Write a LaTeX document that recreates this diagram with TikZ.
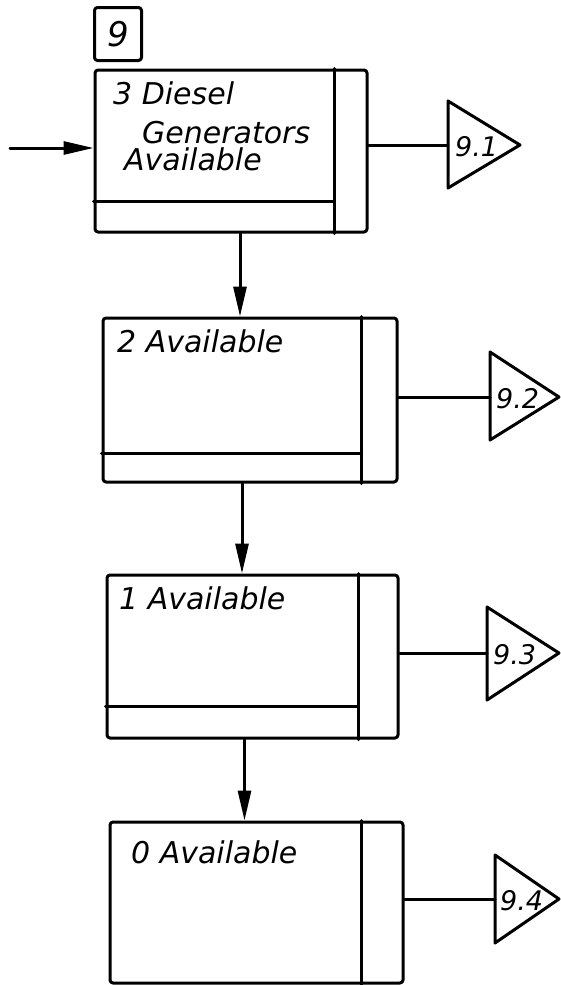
\documentclass[tikz,border=0pt]{standalone}
\usepackage{fontspec}
\setmainfont{DejaVu Sans}
\usetikzlibrary{arrows.meta,calc}
\tikzset{
  ln/.style={line width=3pt, line join=round, line cap=round},
  box/.style={ln, draw, rounded corners=3pt, inner sep=0pt},
  arr/.style={ln, -{Triangle[length=30pt,width=13pt]}},
  hand/.style={font=\fontsize{30}{34}\selectfont\itshape, inner sep=0pt, anchor=base west},
  lab/.style={font=\fontsize{27}{30}\selectfont\itshape, inner sep=0pt, anchor=base west},
}
\begin{document}
\begin{tikzpicture}[x=1pt,y=-1pt]
\useasboundingbox (0,0) rectangle (561,985);
% tag
\node[box, minimum width=47pt, minimum height=53pt, font=\fontsize{34}{38}\selectfont\itshape] (tag) at (118,34) {9};
% boxes
\node[box, minimum width=272pt, minimum height=162pt] (b1) at (231,151) {};
\node[box, minimum width=294pt, minimum height=164pt] (b2) at (250,400) {};
\node[box, minimum width=291pt, minimum height=163pt] (b3) at (252.5,656.5) {};
\node[box, minimum width=293pt, minimum height=161pt] (b4) at (256.5,902.5) {};
% dividers
\draw[ln] ($(b1.north east)+(-34,0)$) -- ($(b1.south east)+(-34,0)$);
\draw[ln] ($(b1.south west)+(0,-32)$) -- ($(b1.south east)+(-34,-32)$);
\draw[ln] ($(b2.north east)+(-37,0)$) -- ($(b2.south east)+(-37,0)$);
\draw[ln] ($(b2.south west)+(0,-30)$) -- ($(b2.south east)+(-37,-30)$);
\draw[ln] ($(b3.north east)+(-41,0)$) -- ($(b3.south east)+(-41,0)$);
\draw[ln] ($(b3.south west)+(0,-33)$) -- ($(b3.south east)+(-41,-33)$);
\draw[ln] ($(b4.north east)+(-43,0)$) -- ($(b4.south east)+(-43,0)$);
% texts
\node[hand] (t1a) at (113,104) {3 Diesel};
\node[hand] (t1b) at (142,143) {Generators};
\node[hand] (t1c) at (124,170) {Available};
\node[hand] (t2) at (117,352) {2 Available};
\node[hand] (t3) at (119,609) {1 Available};
\node[hand] (t4) at (131,863) {0 Available};
% input
\coordinate (in0) at (10,148);
\draw[arr] (in0) -- (in0 -| b1.west);
% vertical arrows
\coordinate (a1) at ($(b1.south)+(9,0)$);
\coordinate (a2) at ($(b2.south)+(-8,0)$);
\coordinate (a3) at ($(b3.south)+(-8,0)$);
\draw[arr] (a1) -- (a1 |- b2.north);
\draw[arr] (a2) -- (a2 |- b3.north);
\draw[arr] (a3) -- (a3 |- b4.north);
% triangles
\coordinate (p1) at (448,145);
\coordinate (p2) at (490,397);
\coordinate (p3) at (487,653);
\coordinate (p4) at (495,899);
\draw[ln] (p1) ++(0,-44) -- ++(0,87) -- (520,145) -- cycle;
\draw[ln] (p2) ++(0,-45) -- ++(0,88) -- (559,397) -- cycle;
\draw[ln] (p3) ++(0,-46) -- ++(0,93) -- (559,653) -- cycle;
\draw[ln] (p4) ++(0,-44) -- ++(0,88) -- (559,899) -- cycle;
\node[lab] (l1) at (455,156) {9.1};
\node[lab] (l2) at (496,408) {9.2};
\node[lab] (l3) at (493,664) {9.3};
\node[lab] (l4) at (500,910) {9.4};
% outputs
\draw[ln] (b1.east |- p1) -- (p1);
\draw[ln] (b2.east |- p2) -- (p2);
\draw[ln] (b3.east |- p3) -- (p3);
\draw[ln] (b4.east |- p4) -- (p4);
\end{tikzpicture}
\end{document}
